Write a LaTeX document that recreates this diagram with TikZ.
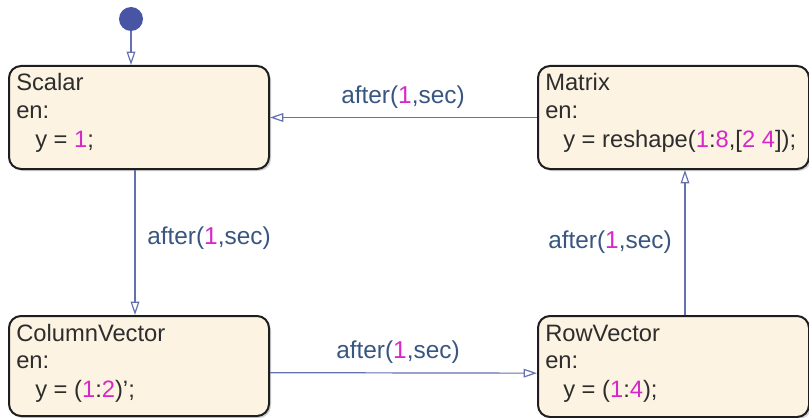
\documentclass[tikz,border=0pt]{standalone}
\usepackage{fontspec}
\setmainfont{Liberation Sans}
\usetikzlibrary{arrows.meta,shadows}
\definecolor{boxfill}{RGB}{253,243,226}
\definecolor{boxdraw}{RGB}{30,30,30}
\definecolor{wire}{RGB}{100,112,176}
\definecolor{dotfill}{RGB}{72,84,164}
\definecolor{lbl}{RGB}{56,86,128}
\definecolor{num}{RGB}{214,40,200}
\definecolor{txt}{RGB}{45,45,45}
\newcommand{\nm}[1]{\textcolor{num}{#1}}
\begin{document}
\begin{tikzpicture}[x=0.75pt,y=-0.75pt,
  font=\fontsize{17.8}{20}\selectfont,
  statebox/.style={draw=boxdraw, line width=1.5pt, fill=boxfill, rounded corners=9pt,
    anchor=north west, inner sep=0pt,
    drop shadow={shadow xshift=1.5pt, shadow yshift=-1.5pt, opacity=0.25, fill=black!70}},
  line/.style={anchor=base west, inner sep=0pt, text=txt},
  trans/.style={draw=wire, line width=0.9pt, -{Triangle[open, length=10pt, width=6.5pt]}},
  tlabel/.style={anchor=base west, inner sep=0pt, text=lbl, font=\fontsize{18.3}{20}\selectfont}]
\useasboundingbox (0,0) rectangle (809,417);

% states
\node[statebox, minimum width=195pt, minimum height=77.25pt] (scalar) at (8,65) {};
\node[statebox, minimum width=203.25pt, minimum height=77.25pt] (matrix) at (537,65) {};
\node[statebox, minimum width=195pt, minimum height=75pt] (column) at (8,315) {};
\node[statebox, minimum width=203.25pt, minimum height=75.75pt] (row) at (537,315) {};

% texts
\node[line] (s1) at (16,91) {Scalar};
\node[line] (s2) at (16,118) {en:};
\node[line] (s3) at (35,147) {y = \nm{1};};

\node[line] (m1) at (545,91) {Matrix};
\node[line] (m2) at (545,118) {en:};
\node[line] (m3) at (563,147) {y = reshape(\nm{1}:\nm{8},[\nm{2} \nm{4}]);};

\node[line] (c1) at (16,341) {ColumnVector};
\node[line] (c2) at (16,368) {en:};
\node[line] (c3) at (35,397) {y = (\nm{1}:\nm{2})';};

\node[line] (r1) at (545,341) {RowVector};
\node[line] (r2) at (545,368) {en:};
\node[line] (r3) at (563,397) {y = (\nm{1}:\nm{4});};

% initial
\node[circle, fill=dotfill, minimum size=18pt, inner sep=0pt] (init) at (131,19) {};
\draw[trans] (init.south) -- (init.south |- scalar.north);

% transitions
\draw[trans] ([xshift=-3pt]scalar.south) -- ([xshift=-3pt]column.north);
\draw[trans] (matrix.west) -- (scalar.east);
\draw[trans] ([yshift=-5pt]column.east) -- ([yshift=-5pt]row.west);
\draw[trans] ([xshift=8.6pt]row.north) -- ([xshift=8.6pt]matrix.south);

% labels
\node[tlabel] (l1) at (341,104) {after(\nm{1},sec)};
\node[tlabel] (l2) at (147,244) {after(\nm{1},sec)};
\node[tlabel] (l3) at (336,358) {after(\nm{1},sec)};
\node[tlabel] (l4) at (548,248) {after(\nm{1},sec)};
\end{tikzpicture}
\end{document}
